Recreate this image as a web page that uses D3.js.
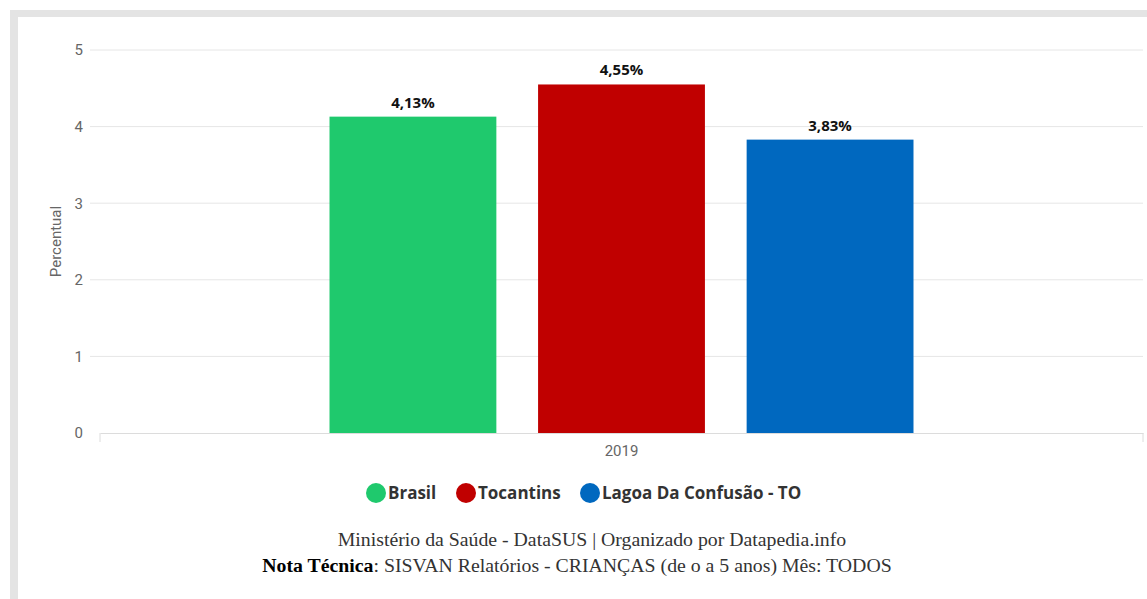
<!DOCTYPE html>
<html><head><meta charset="utf-8">
<script src="https://cdn.jsdelivr.net/npm/d3@7/dist/d3.min.js"></script>
<style>body{margin:0;background:#fff;}svg{display:block;}</style>
</head><body>
<svg id="c" width="1147" height="599"></svg>
<script>
const categories = ["2019"];
const seriesNames = ["Brasil", "Tocantins", "Lagoa Da Confusão - TO"];
const seriesColors = ["#1fc96d", "#c00000", "#0068bf"];
const values2019 = [4.13, 4.55, 3.83];
const valueLabels = ["4,13%", "4,55%", "3,83%"];
const yTicks = [0, 1, 2, 3, 4, 5];
const footerLine1 = "Ministério da Saúde - DataSUS | Organizado por Datapedia.info";
const footerBold = "Nota Técnica";
const footerRest = ": SISVAN Relatórios - CRIANÇAS (de o a 5 anos) Mês: TODOS";

(function(){
const svg = d3.select("#c");
// frame
svg.append("rect").attr("x",10).attr("y",10).attr("width",1137).attr("height",589).attr("fill","#e4e4e4");
svg.append("rect").attr("x",18).attr("y",17).attr("width",1129).attr("height",582).attr("fill","#fff");

const pL = 100, pR = 1143, pT = 50, pB = 433;
const y = d3.scaleLinear().domain([0,5]).range([pB, pT]);
const x0 = d3.scaleBand().domain(categories).range([pL, pR]).paddingInner(0).paddingOuter(0.393);
const x1 = d3.scaleBand().domain(seriesNames).range([0, x0.bandwidth()]).paddingInner(0.2).paddingOuter(0);

// grid
svg.append("g").selectAll("line").data(yTicks.filter(d=>d>0)).join("line")
  .attr("x1",90).attr("x2",pR).attr("y1",d=>y(d)).attr("y2",d=>y(d))
  .attr("stroke","#e6e6e6").attr("stroke-width",1);

// y axis labels
const yAxis = d3.axisLeft(y).tickValues(yTicks).tickFormat(d3.format("d")).tickSize(0).tickPadding(0);
const gy = svg.append("g").attr("transform",`translate(83,0)`).call(yAxis);
gy.select(".domain").remove();
gy.selectAll("text").attr("fill","#666").style("font-family","Roboto, 'Noto Sans', sans-serif").style("font-size","15px");

// y title
svg.append("text").attr("transform",`translate(61,${(pT+pB)/2}) rotate(-90)`)
  .attr("text-anchor","middle").attr("fill","#666")
  .style("font-family","Roboto, 'Noto Sans', sans-serif").style("font-size","15px").text("Percentual");

// bars
const data = seriesNames.map((s,i)=>({s, v: values2019[i], c: seriesColors[i], l: valueLabels[i]}));
const g = svg.append("g").attr("transform",`translate(${x0("2019")},0)`);
g.selectAll("rect").data(data).join("rect")
  .attr("x",d=>x1(d.s)).attr("width",x1.bandwidth())
  .attr("y",d=>y(d.v)).attr("height",d=>y(0)-y(d.v)).attr("fill",d=>d.c);
g.selectAll("text").data(data).join("text")
  .attr("x",d=>x1(d.s)+x1.bandwidth()/2).attr("y",d=>y(d.v)-9)
  .attr("text-anchor","middle").attr("fill","#111")
  .style("font-family","'Open Sans', 'Noto Sans', sans-serif").style("font-weight","700").style("font-size","15px")
  .text(d=>d.l);

// x axis
const xAxis = d3.axisBottom(x0).tickSize(0).tickPadding(12);
const gx = svg.append("g").attr("transform",`translate(0,${pB})`).call(xAxis);
gx.select(".domain").attr("stroke","#dcdcdc");
gx.selectAll("text").attr("fill","#666").style("font-family","Roboto, 'Noto Sans', sans-serif").style("font-size","15px");
[pL,pR].forEach(px=>svg.append("line").attr("x1",px).attr("x2",px).attr("y1",pB).attr("y2",pB+9).attr("stroke","#dcdcdc"));

// legend
const legPos = [376, 466, 590];
const lg = svg.append("g");
data.forEach((d,i)=>{
  lg.append("circle").attr("cx",legPos[i]).attr("cy",493).attr("r",10).attr("fill",d.c);
  lg.append("text").attr("x",legPos[i]+12).attr("y",499).attr("fill","#333")
    .style("font-family","'Open Sans', 'Noto Sans', sans-serif").style("font-weight","700").style("font-size","17px").text(d.s);
});

// footer
svg.append("text").attr("x",592).attr("y",546).attr("text-anchor","middle").attr("fill","#333")
  .style("font-family","'Liberation Serif', serif").style("font-size","19.8px").text(footerLine1);
const t2 = svg.append("text").attr("x",577).attr("y",572).attr("text-anchor","middle").attr("fill","#333")
  .style("font-family","'Liberation Serif', serif").style("font-size","19.8px");
t2.append("tspan").style("font-weight","700").attr("fill","#000").text(footerBold);
t2.append("tspan").text(footerRest);
})();
</script>
</body></html>
